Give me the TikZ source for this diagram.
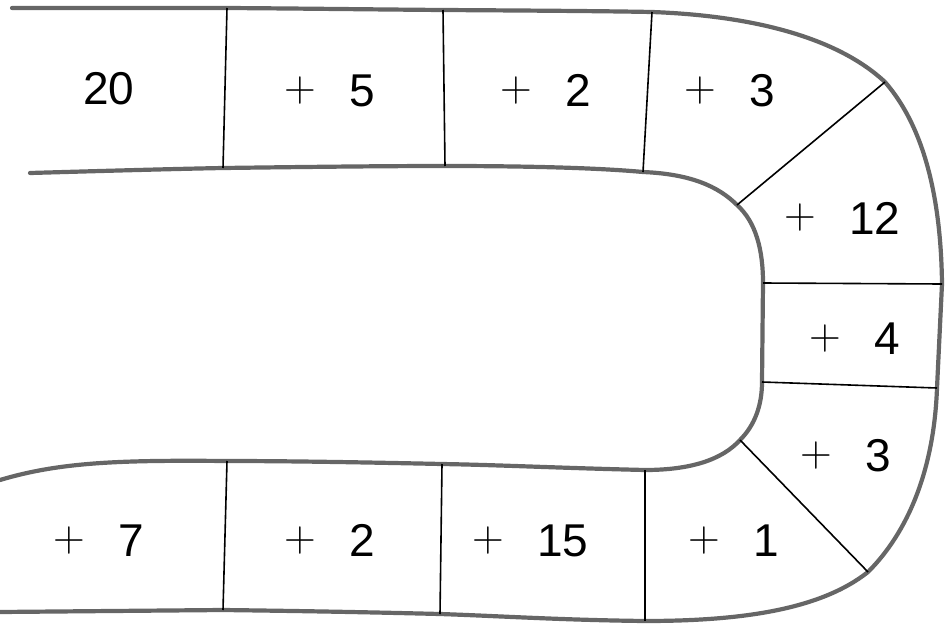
\documentclass[tikz,border=0pt]{standalone}
\usepackage{fontspec}
\setmainfont{Liberation Sans}
\newcommand\plussign{\raisebox{5.5pt}{\fontfamily{lmr}\fontsize{44}{44}\selectfont +}\hspace{33pt}}
\begin{document}
\begin{tikzpicture}[x=1pt,y=-1pt,
  edge/.style={line width=4.2pt, draw=black!60, line cap=round, line join=round},
  divider/.style={line width=1.6pt, draw=black},
  lab/.style={inner sep=0pt, anchor=base west, font=\fontsize{46}{46}\selectfont},
  num/.style={inner sep=0pt, anchor=base, font=\fontsize{46}{46}\selectfont}]
\useasboundingbox (0,0) rectangle (946,624);
% outer boundary points
\coordinate (oS) at (12,8);
\coordinate (o1) at (227,8);
\coordinate (o2) at (443,10);
\coordinate (o3) at (652,12);
\coordinate (o4) at (885,82);
\coordinate (o5) at (942,284);
\coordinate (o6) at (937,388);
\coordinate (o7) at (868,572);
\coordinate (o8) at (645,621);
\coordinate (o9) at (440,614);
\coordinate (o10) at (223,610);
\coordinate (oE) at (0,612);
% inner boundary points
\coordinate (iS) at (30,173);
\coordinate (i1) at (223,168);
\coordinate (i2) at (445,166);
\coordinate (i3) at (643,172);
\coordinate (i4) at (737,205);
\coordinate (i5) at (763,283);
\coordinate (i6) at (762,382);
\coordinate (i7) at (740,440);
\coordinate (i8) at (645,470);
\coordinate (i9) at (442,464);
\coordinate (i10) at (227,461);
\coordinate (iE) at (0,480);
% outer boundary
\draw[edge] (oS) -- (o1) .. controls (300,8.5) and (380,9.5) .. (o2)
  .. controls (520,10.5) and (600,11) .. (o3)
  .. controls (760,16) and (840,40) .. (o4)
  .. controls (925,128) and (941,200) .. (o5)
  -- (o6)
  .. controls (934,470) and (908,532) .. (o7)
  .. controls (820,610) and (740,621) .. (o8)
  .. controls (560,620) and (500,616) .. (o9)
  .. controls (360,612) and (300,611) .. (o10)
  -- (oE);
% inner boundary
\draw[edge] (iS) .. controls (100,171) and (170,169) .. (i1)
  .. controls (300,167) and (380,166) .. (i2)
  .. controls (530,166) and (600,168) .. (i3)
  .. controls (690,174) and (718,186) .. (i4)
  .. controls (756,222) and (763,250) .. (i5)
  -- (i6)
  .. controls (762,405) and (755,425) .. (i7)
  .. controls (722,460) and (690,470) .. (i8)
  .. controls (560,468) and (500,465) .. (i9)
  .. controls (350,462) and (280,461) .. (i10)
  .. controls (120,460) and (60,462) .. (iE);
% dividers
\draw[divider] (o1) -- (i1);
\draw[divider] (o2) -- (i2);
\draw[divider] (o3) -- (i3);
\draw[divider] (o4) -- (i4);
\draw[divider] (o5) -- (i5);
\draw[divider] (o6) -- (i6);
\draw[divider] (o7) -- (i7);
\draw[divider] (o8) -- (i8);
\draw[divider] (o9) -- (i9);
\draw[divider] (o10) -- (i10);
% labels (anchor: left of plus sign, on baseline)
\node[num] (t20) at (109,104) {20};
\node[lab] (t5) at (284.5,106.5) {\plussign 5};
\node[lab] (t2a) at (500.5,106.5) {\plussign 2};
\node[lab] (t3a) at (684.5,106.5) {\plussign 3};
\node[lab] (t12) at (784.5,234) {\plussign 12};
\node[lab] (t4) at (809.5,354.5) {\plussign 4};
\node[lab] (t3b) at (800.5,471.5) {\plussign 3};
\node[lab] (t1) at (688.5,556.5) {\plussign 1};
\node[lab] (t15) at (472.5,556.5) {\plussign 15};
\node[lab] (t2b) at (284.5,556.5) {\plussign 2};
\node[lab] (t7) at (53.5,556.5) {\plussign 7};
\end{tikzpicture}
\end{document}
